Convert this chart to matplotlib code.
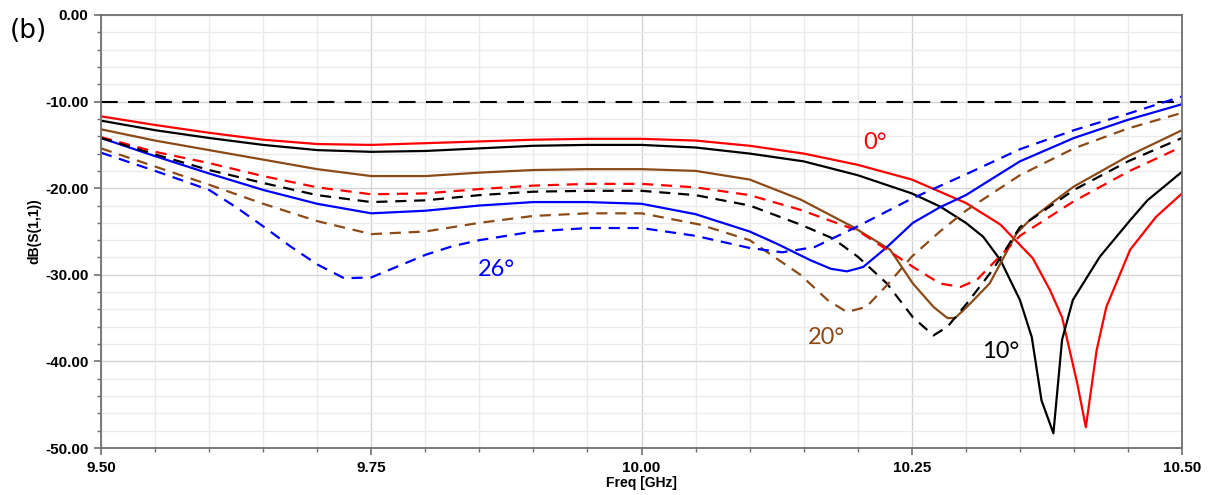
import numpy as np
import matplotlib.pyplot as plt
from matplotlib.ticker import MultipleLocator, FormatStrFormatter

# frequencies (GHz) and S11 (dB)
f_red = [9.50, 9.55, 9.60, 9.65, 9.70, 9.75, 9.80, 9.85, 9.90, 9.95, 10.00, 10.05,
         10.10, 10.15, 10.20, 10.25, 10.30, 10.332, 10.362, 10.378, 10.389, 10.403,
         10.411, 10.421, 10.43, 10.452, 10.476, 10.50]
s_red = [-11.7, -12.7, -13.6, -14.4, -14.9, -15.0, -14.8, -14.6, -14.4, -14.3, -14.3, -14.5,
         -15.1, -16.0, -17.3, -19.0, -21.7, -24.2, -28.1, -31.8, -34.9, -42.5,
         -47.6, -38.7, -33.7, -27.1, -23.3, -20.6]

f_blk = [9.50, 9.55, 9.60, 9.65, 9.70, 9.75, 9.80, 9.85, 9.90, 9.95, 10.00, 10.05,
         10.10, 10.15, 10.20, 10.25, 10.276, 10.30, 10.316, 10.332, 10.35, 10.361,
         10.37, 10.381, 10.389, 10.399, 10.424, 10.452, 10.468, 10.50]
s_blk = [-12.2, -13.3, -14.2, -15.0, -15.6, -15.8, -15.7, -15.4, -15.1, -15.0, -15.0, -15.3,
         -16.0, -16.9, -18.5, -20.6, -22.1, -24.0, -25.6, -28.3, -32.9, -37.2,
         -44.5, -48.3, -37.5, -32.9, -27.9, -23.7, -21.4, -18.1]

f_brn = [9.50, 9.55, 9.60, 9.65, 9.70, 9.75, 9.80, 9.85, 9.90, 9.95, 10.00, 10.05,
         10.10, 10.147, 10.196, 10.23, 10.251, 10.27, 10.283, 10.29, 10.301, 10.322,
         10.347, 10.359, 10.387, 10.40, 10.45, 10.50]
s_brn = [-13.2, -14.5, -15.6, -16.7, -17.8, -18.6, -18.6, -18.2, -17.9, -17.8, -17.8, -18.0,
         -19.0, -21.3, -24.5, -27.1, -31.0, -33.7, -35.0, -35.0, -33.7, -31.0,
         -25.2, -23.7, -21.0, -19.8, -16.3, -13.3]

f_blu = [9.50, 9.55, 9.60, 9.65, 9.70, 9.75, 9.80, 9.85, 9.90, 9.95, 10.00, 10.05,
         10.10, 10.125, 10.156, 10.175, 10.19, 10.205, 10.227, 10.251, 10.276, 10.30, 10.35,
         10.40, 10.45, 10.50]
s_blu = [-14.2, -16.3, -18.3, -20.2, -21.8, -22.9, -22.6, -22.0, -21.6, -21.6, -21.8, -23.0,
         -25.0, -26.4, -28.3, -29.3, -29.6, -29.1, -26.8, -24.0, -22.2, -20.8, -16.9,
         -14.2, -12.1, -10.3]

f_red_d = [9.50, 9.55, 9.60, 9.65, 9.70, 9.75, 9.80, 9.85, 9.90, 9.95, 10.00, 10.05,
           10.10, 10.147, 10.20, 10.227, 10.25, 10.276, 10.295, 10.31, 10.332, 10.35,
           10.40, 10.45, 10.50]
s_red_d = [-14.1, -15.8, -17.1, -18.6, -19.9, -20.7, -20.6, -20.1, -19.7, -19.5, -19.5, -19.9,
           -20.8, -22.5, -24.9, -27.1, -29.0, -31.0, -31.4, -30.6, -27.8, -25.5,
           -21.5, -18.1, -15.2]

f_blk_d = [9.50, 9.55, 9.60, 9.65, 9.70, 9.75, 9.80, 9.85, 9.90, 9.95, 10.00, 10.05,
           10.10, 10.147, 10.177, 10.20, 10.227, 10.251, 10.27, 10.283, 10.301, 10.325,
           10.35, 10.40, 10.45, 10.50]
s_blk_d = [-14.2, -16.1, -17.9, -19.4, -20.8, -21.6, -21.4, -20.8, -20.4, -20.3, -20.3, -20.8,
           -22.0, -24.2, -25.8, -27.9, -31.0, -34.9, -37.0, -36.0, -33.3, -29.4,
           -24.5, -20.2, -16.9, -14.2]

f_brn_d = [9.50, 9.55, 9.60, 9.65, 9.70, 9.75, 9.80, 9.85, 9.90, 9.95, 10.00, 10.054,
           10.10, 10.147, 10.172, 10.19, 10.208, 10.227, 10.25, 10.276, 10.30, 10.35,
           10.40, 10.45, 10.50]
s_brn_d = [-15.4, -17.5, -19.6, -21.8, -23.8, -25.3, -25.0, -24.0, -23.2, -22.9, -22.9, -24.2,
           -26.0, -30.0, -32.9, -34.3, -33.7, -31.2, -27.9, -25.0, -22.6, -18.5,
           -15.4, -13.1, -11.3]

f_blu_d = [9.50, 9.55, 9.60, 9.625, 9.65, 9.675, 9.70, 9.725, 9.75, 9.775, 9.80, 9.825,
           9.85, 9.90, 9.95, 10.00, 10.05, 10.10, 10.13, 10.16, 10.20, 10.25, 10.30,
           10.35, 10.40, 10.45, 10.50]
s_blu_d = [-15.9, -18.0, -20.2, -22.2, -24.4, -26.7, -28.8, -30.4, -30.3, -29.0, -27.7, -26.7,
           -26.0, -25.0, -24.6, -24.6, -25.5, -26.9, -27.4, -26.8, -24.4, -21.2, -18.4,
           -15.5, -13.3, -11.4, -9.4]

ref_level = -10.0

brown = '#8c4a17'

fig = plt.figure(figsize=(12.1, 4.95), dpi=100)
ax = fig.add_axes([0.0835, 0.0949, 0.8934, 0.8748])

ax.axhline(ref_level, color='k', lw=1.5, ls=(0, (8, 5)), zorder=2)

lw = 1.6
ax.plot(f_red, s_red, color='#ff0000', lw=lw)
ax.plot(f_blk, s_blk, color='k', lw=lw)
ax.plot(f_brn, s_brn, color=brown, lw=lw)
ax.plot(f_blu, s_blu, color='#0000ff', lw=lw)
dash = (0, (5, 3.5))
ax.plot(f_red_d, s_red_d, color='#ff0000', lw=lw, ls=dash)
ax.plot(f_blk_d, s_blk_d, color='k', lw=lw, ls=dash)
ax.plot(f_brn_d, s_brn_d, color=brown, lw=lw, ls=dash)
ax.plot(f_blu_d, s_blu_d, color='#0000ff', lw=lw, ls=dash)

ax.set_xlim(9.5, 10.5)
ax.set_ylim(-50, 0)
ax.xaxis.set_major_locator(MultipleLocator(0.25))
ax.xaxis.set_minor_locator(MultipleLocator(0.05))
ax.yaxis.set_major_locator(MultipleLocator(10))
ax.yaxis.set_minor_locator(MultipleLocator(2))
ax.xaxis.set_major_formatter(FormatStrFormatter('%.2f'))
ax.yaxis.set_major_formatter(FormatStrFormatter('%.2f'))
ax.grid(which='minor', color='#ebebeb', lw=1.0, zorder=0)
ax.grid(which='major', color='#d4d4d4', lw=1.0, zorder=0)
ax.set_axisbelow(True)

for sp in ax.spines.values():
    sp.set_color('#707070')
    sp.set_linewidth(1.3)
ax.tick_params(which='major', length=5, width=1.2, color='#707070', pad=4)
ax.tick_params(which='minor', length=3, width=1.0, color='#707070')
for lab in ax.get_xticklabels() + ax.get_yticklabels():
    lab.set_fontweight('bold')
    lab.set_fontsize(11)
    lab.set_family('Liberation Sans')

ax.set_xlabel('Freq [GHz]', fontsize=10, fontweight='bold', family='Liberation Sans', labelpad=1)
ax.set_ylabel('dB(S(1,1))', fontsize=10, fontweight='bold', family='Liberation Sans', labelpad=3)

lab_font = dict(fontsize=17, family='Lato')
ax.text(10.216, -14.7, '0°', color='#ff0000', ha='center', va='center', **lab_font)
ax.text(10.332, -38.9, '10°', color='k', ha='center', va='center', **lab_font)
ax.text(10.171, -37.2, '20°', color=brown, ha='center', va='center', **lab_font)
ax.text(9.866, -29.4, '26°', color='#0000ff', ha='center', va='center', **lab_font)

fig.text(0.008, 0.937, '(b)', fontsize=19, family='DejaVu Sans', ha='left', va='center')

plt.savefig('out.png', dpi=100)
